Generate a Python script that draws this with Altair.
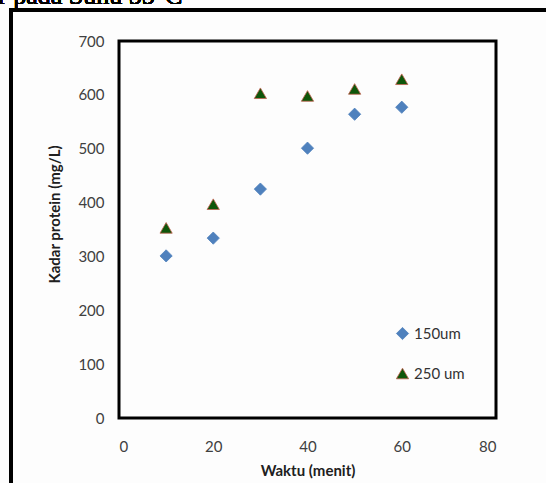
import altair as alt
import pandas as pd

waktu = [10, 20, 30, 40, 50, 60]
kadar_150 = [301, 334, 425, 501, 564, 577]
kadar_250 = [353, 397, 603, 598, 611, 629]
series = ["150um", "250 um"]
x_ticks = [0, 20, 40, 60, 80]
y_ticks = [0, 100, 200, 300, 400, 500, 600, 700]

rows = []
for w, v in zip(waktu, kadar_150):
    rows.append({"Waktu": w, "Kadar": v, "Seri": series[0]})
for w, v in zip(waktu, kadar_250):
    rows.append({"Waktu": w, "Kadar": v, "Seri": series[1]})
df = pd.DataFrame(rows)

FONT = "Lato"

points = alt.Chart(df).mark_point(filled=True, size=150, strokeWidth=0.8, opacity=1).encode(
    x=alt.X("Waktu:Q", title="Waktu (menit)",
            scale=alt.Scale(domain=[0, 80], nice=False),
            axis=alt.Axis(values=x_ticks, grid=False, domain=False, ticks=False,
                          labelPadding=21, labelFontSize=15, labelColor="#404040",
                          labelFont=FONT, titleFont=FONT, titleFontSize=15,
                          titleFontWeight="bold", titleColor="#202020", titlePadding=9)),
    y=alt.Y("Kadar:Q", title="Kadar protein (mg/L)",
            scale=alt.Scale(domain=[0, 700], nice=False),
            axis=alt.Axis(values=y_ticks, grid=False, domain=False, ticks=False,
                          labelPadding=15, labelFontSize=15, labelColor="#404040",
                          labelFont=FONT, titleFont=FONT, titleFontSize=15,
                          titleFontWeight="bold", titleColor="#202020", titlePadding=15,
                          titleY=173)),
    color=alt.Color("Seri:N", title=None,
                    scale=alt.Scale(domain=series, range=["#4F81BD", "#0E560A"]),
                    legend=alt.Legend(orient="none", legendX=276, legendY=285,
                                      labelFont=FONT, labelFontSize=15, labelColor="#333333",
                                      symbolSize=150, rowPadding=24, labelOffset=4,
                                      symbolStrokeWidth=0.8)),
    shape=alt.Shape("Seri:N", title=None,
                    scale=alt.Scale(domain=series, range=["diamond", "triangle-up"])),
    stroke=alt.Stroke("Seri:N", title=None,
                      scale=alt.Scale(domain=series, range=["#4F81BD", "#C0604D"])),
)

outer = alt.Chart(df).mark_rect(fill=None, stroke="black", strokeWidth=3).encode(
    x=alt.value(-108), x2=alt.value(600), y=alt.value(-31), y2=alt.value(600)
)

caption = alt.Chart(df).mark_text(
    text="r pada Suhu 55°C", font="Liberation Serif", fontSize=26,
    align="left", baseline="alphabetic", color="black"
).encode(x=alt.value(-121), y=alt.value(-37))

chart = alt.layer(outer, caption, points).properties(
    width=377, height=377,
    autosize=alt.AutoSizeParams(type="none"),
    padding={"left": 119, "top": 41, "right": 50, "bottom": 65},
    background="#FDFDFD",
).configure_view(stroke="black", strokeWidth=3)

chart.save("out.html", embed_options={"renderer": "svg", "actions": False})
